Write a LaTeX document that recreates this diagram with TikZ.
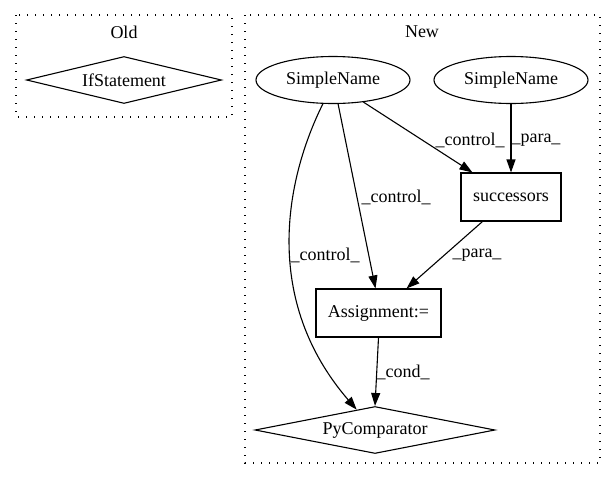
\documentclass[tikz,border=0pt]{standalone}
\usepackage{fontspec}
\setmainfont{Liberation Serif}
\usetikzlibrary{shapes.geometric,arrows.meta,calc}
\begin{document}
\begin{tikzpicture}[x=1pt,y=-1pt,line width=1.1pt,font=\fontsize{18}{20}\selectfont,
  cluster/.style={draw,dash pattern=on 1.3pt off 6.7pt},
  ell/.style={ellipse,draw,minimum width=154pt,minimum height=47pt,inner sep=0pt},
  box/.style={rectangle,draw,minimum height=48pt,inner sep=0pt},
  dia/.style={diamond,draw,inner sep=0pt,aspect=4,minimum height=47pt},
  edge/.style={-{Triangle[length=13pt,width=9pt]}},
  lbl/.style={inner sep=0pt}]
\useasboundingbox (0,0) rectangle (616,480);
\fill[white] (0,0) rectangle (616,480);
% clusters
\draw[cluster] (16,15) rectangle (232,117);
\node[lbl] (oldlbl) at (124,32) {Old};
\draw[cluster] (245,15) rectangle (600,463);
\node[lbl] (newlbl) at (422,32) {New};
% nodes
\node[dia,minimum width=195pt] (ifs) at (124,80) {IfStatement};
\node[ell] (sn1) at (333,80) {SimpleName};
\node[ell] (sn2) at (511,80) {SimpleName};
\node[box,minimum width=100pt] (succ) at (511,197) {successors};
\node[box,minimum width=125pt] (asg) at (378.5,313) {Assignment:=};
\node[dia,minimum width=240pt] (pc) at (375,430) {PyComparator};
% edges
\draw[edge] (sn1.-36) -- ($(succ.north west)+(12,0)$);
\draw[edge] (sn2.south) -- (succ.north);
\draw[edge] (sn1.-78) -- ($(asg.north)+(-3,0)$);
\draw[edge] (sn1.-113) .. controls (285,180) and (262,300) .. (pc.132);
\draw[edge] ($(succ.south west)+(22,0)$) -- ($(asg.north east)+(-35,0)$);
\draw[edge] (asg.south) -- (pc.north);
% labels
\node[lbl] (l1) at (470,140) {\_control\_};
\node[lbl] (l2) at (536,140) {\_para\_};
\node[lbl] (l3) at (396,197) {\_control\_};
\node[lbl] (l4) at (325,255) {\_control\_};
\node[lbl] (l5) at (477,255) {\_para\_};
\node[lbl] (l6) at (403,372) {\_cond\_};
\end{tikzpicture}
\end{document}
